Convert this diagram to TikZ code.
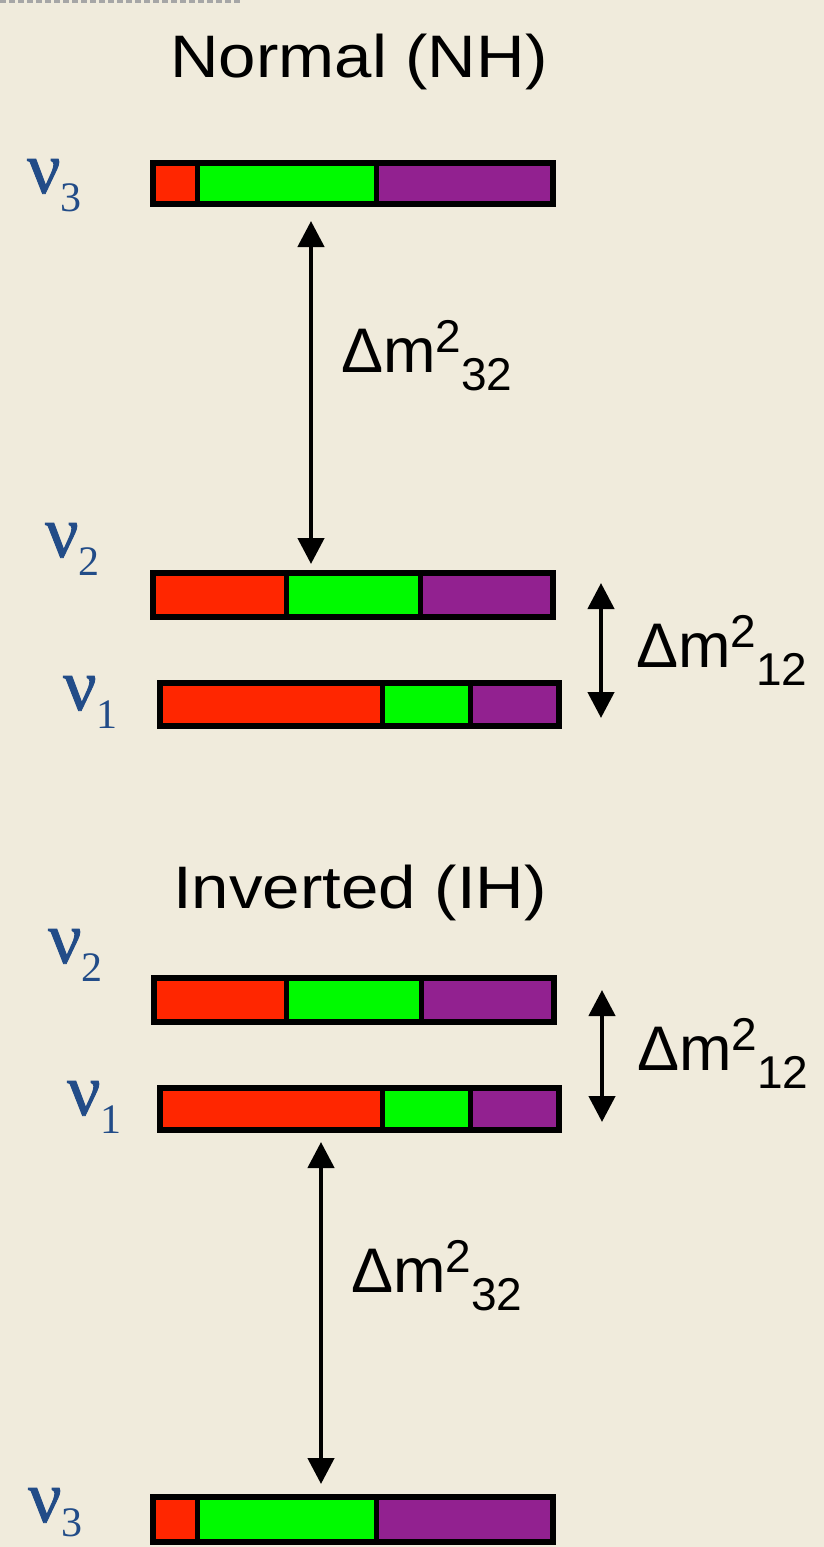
\documentclass[tikz,border=0pt]{standalone}
\usepackage{fontspec}
\setmainfont{Liberation Sans}
\newfontfamily\nufont[FakeBold=1.2]{Liberation Serif}
\newfontfamily\subfont{Liberation Serif}
\newfontfamily\titlefont[FakeStretch=1.12]{Liberation Sans}
\usetikzlibrary{arrows.meta}
\definecolor{bgcol}{RGB}{240,235,220}
\definecolor{cred}{RGB}{255,38,0}
\definecolor{cgreen}{RGB}{0,250,0}
\definecolor{cpurple}{RGB}{146,33,144}
\definecolor{nucol}{RGB}{34,76,136}
\tikzset{
  barbox/.style={draw=black, line width=6pt, inner sep=0pt, rectangle},
  divider/.style={draw=black, line width=5pt},
  gap/.style={line width=4.5pt, {Triangle[width=26pt,length=26pt]}-{Triangle[width=26pt,length=26pt]}},
  nulabel/.style={anchor=base west, inner sep=0pt, text=nucol},
  dmlabel/.style={anchor=base west, inner sep=0pt, text=black},
  title/.style={anchor=base, inner sep=0pt, text=black}
}
\newcommand\levelbar[7]{%
  \fill[cred] (#2,#3) rectangle (#6,#5);
  \fill[cgreen] (#6,#3) rectangle (#7,#5);
  \fill[cpurple] (#7,#3) rectangle (#4,#5);
  \draw[divider] (#6,#3) -- (#6,#5);
  \draw[divider] (#7,#3) -- (#7,#5);
  \node[barbox, minimum width={(#4-#2-6)*1pt}, minimum height={(#5-#3-6)*1pt}] (#1) at ({(#2+#4)/2},{(#3+#5)/2}) {};
}
\newcommand\nulab[2][-18pt]{{\nufont\fontsize{74}{74}\selectfont ν}\raisebox{#1}{\subfont\fontsize{42}{42}\selectfont #2}}
\newcommand\dmlab[1]{{\fontsize{63}{63}\selectfont Δm}\raisebox{20pt}{\fontsize{46}{46}\selectfont 2}\raisebox{-18pt}{\fontsize{46}{46}\selectfont #1}}
\begin{document}
\begin{tikzpicture}[x=1pt,y=-1pt]
\fill[bgcol] (0,0) rectangle (824,1547);
\useasboundingbox (0,0) rectangle (824,1547);
\draw[gray!70, line width=3pt, dash pattern=on 6pt off 3pt] (0,1.5) -- (240,1.5);
% titles
\node[title] (tnh) at (359,77) {\titlefont\fontsize{60}{60}\selectfont Normal (NH)};
\node[title] (tih) at (360,908) {\titlefont\fontsize{60}{60}\selectfont Inverted (IH)};
% bars
\levelbar{nh3}{150}{160}{556}{207}{197}{376}
\levelbar{nh2}{150}{570}{556}{620}{286}{420}
\levelbar{nh1}{157}{680}{562}{729}{382}{470}
\levelbar{ih2}{151}{975}{557}{1025}{286}{421}
\levelbar{ih1}{157}{1085}{562}{1133}{382}{470}
\levelbar{ih3}{150}{1494}{556}{1545}{197}{376}
% nu labels
\node[nulabel] (lnh3) at (27,193) {\nulab{3}};
\node[nulabel] (lnh2) at (45,557) {\nulab{2}};
\node[nulabel] (lnh1) at (63,710) {\nulab{1}};
\node[nulabel] (lih2) at (48,963) {\nulab{2}};
\node[nulabel] (lih1) at (67,1115) {\nulab{1}};
\node[nulabel] (lih3) at (28,1522) {\nulab[-14pt]{3}};
% arrows
\coordinate (anh32) at (311,0);
\coordinate (anh12) at (601,0);
\coordinate (aih12) at (602,0);
\coordinate (aih32) at (321,0);
\draw[gap, shorten <=14pt, shorten >=6pt] (anh32 |- nh3.south) -- (anh32 |- nh2.north);
\draw[gap, shorten <=13pt, shorten >=11pt] (anh12 |- nh2.north) -- (anh12 |- nh1.south);
\draw[gap, shorten <=15pt, shorten >=11pt] (aih12 |- ih2.north) -- (aih12 |- ih1.south);
\draw[gap, shorten <=9pt, shorten >=10pt] (aih32 |- ih1.south) -- (aih32 |- ih3.north);
% delta m labels
\node[dmlabel] (dnh32) at (341,372) {\dmlab{32}};
\node[dmlabel] (dnh12) at (636,667) {\dmlab{12}};
\node[dmlabel] (dih12) at (637,1070) {\dmlab{12}};
\node[dmlabel] (dih32) at (351,1292) {\dmlab{32}};
\end{tikzpicture}
\end{document}
